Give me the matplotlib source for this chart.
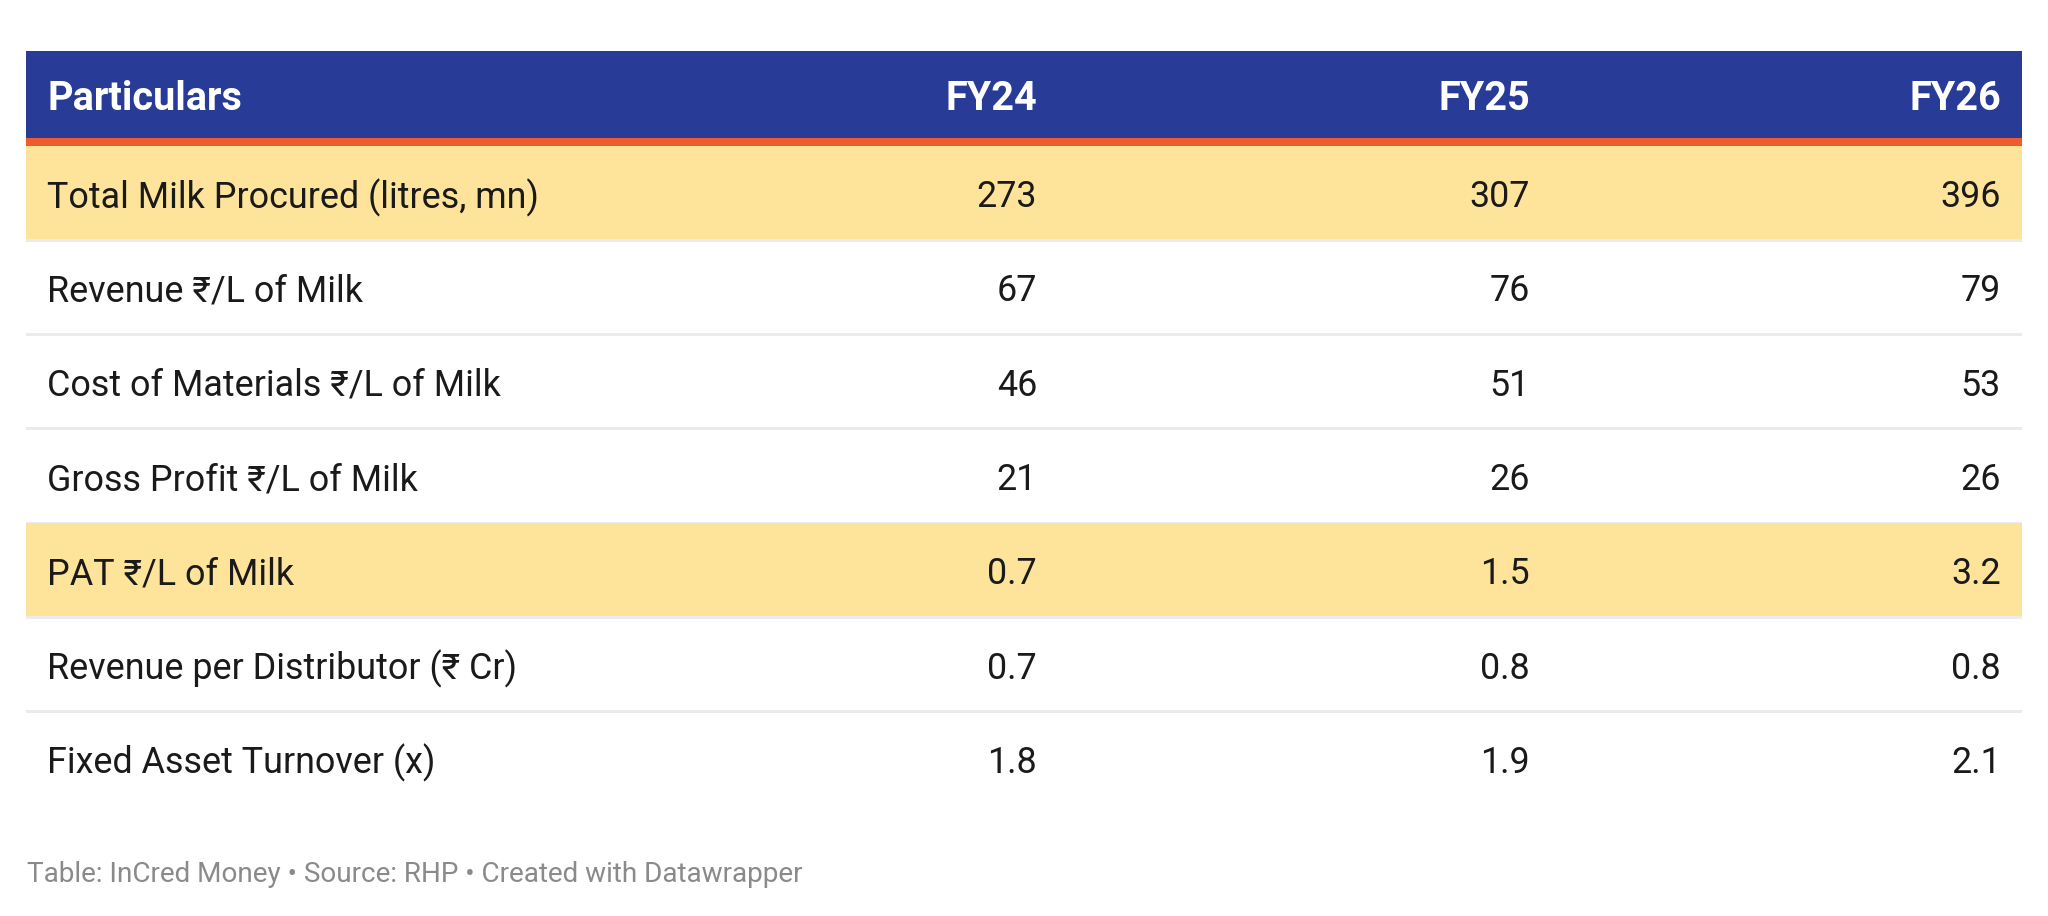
import matplotlib
matplotlib.use("Agg")
import matplotlib.pyplot as plt
from matplotlib.patches import Rectangle

# ---- data ----
columns = ["Particulars", "FY24", "FY25", "FY26"]
row_labels = [
    "Total Milk Procured (litres, mn)",
    "Revenue ₹/L of Milk",
    "Cost of Materials ₹/L of Milk",
    "Gross Profit ₹/L of Milk",
    "PAT ₹/L of Milk",
    "Revenue per Distributor (₹ Cr)",
    "Fixed Asset Turnover (x)",
]
fy24 = ["273", "67", "46", "21", "0.7", "0.7", "1.8"]
fy25 = ["307", "76", "51", "26", "1.5", "0.8", "1.9"]
fy26 = ["396", "79", "53", "26", "3.2", "0.8", "2.1"]
highlighted = [True, False, False, False, True, False, False]
footer = "Table: InCred Money • Source: RHP • Created with Datawrapper"

# ---- style ----
W, H = 2048, 916
DPI = 100
FAM = ["Roboto", "DejaVu Sans"]
BLUE = "#283b97"
ORANGE = "#ef5b2b"
YELLOW = "#fee49a"
LINE = "#ebebeb"
TEXT = "#1a1a1a"
GREY = "#8a8a8a"

left, right = 26, 2022
pad = 21
head_top, head_bot = 51, 138
orange_h = 8
body_top = head_bot + orange_h
row_h = 94.3
col_right = [None, 1037, 1530, 2001]
fs_head = 28.5
fs = 25.8
fs_foot = 20.1

fig = plt.figure(figsize=(W / DPI, H / DPI), dpi=DPI)
ax = fig.add_axes([0, 0, 1, 1])
ax.set_xlim(0, W)
ax.set_ylim(H, 0)
ax.axis("off")

# header
ax.add_patch(Rectangle((left, head_top), right - left, head_bot - head_top, color=BLUE, lw=0))
ax.add_patch(Rectangle((left, head_bot), right - left, orange_h, color=ORANGE, lw=0))
hy = (head_top + head_bot) / 2
for j, c in enumerate(columns):
    if j == 0:
        ax.text(left + pad, hy, c, ha="left", va="center_baseline", fontsize=fs_head,
                fontweight="bold", color="white", family=FAM)
    else:
        ax.text(col_right[j], hy, c, ha="right", va="center_baseline", fontsize=fs_head,
                fontweight="bold", color="white", family=FAM)

# body
values = [fy24, fy25, fy26]
n = len(row_labels)
for i in range(n):
    y0 = body_top + i * row_h
    if highlighted[i]:
        ax.add_patch(Rectangle((left, y0), right - left, row_h, color=YELLOW, lw=0))
    if i < n - 1:
        ax.add_patch(Rectangle((left, y0 + row_h - 1.5), right - left, 3, color=LINE, lw=0))
    yc = y0 + row_h / 2
    ax.text(left + pad, yc, row_labels[i], ha="left", va="center_baseline", fontsize=fs,
            color=TEXT, family=FAM)
    for j, col in enumerate(values, start=1):
        ax.text(col_right[j], yc, col[i], ha="right", va="center_baseline", fontsize=fs,
                color=TEXT, family=FAM)

# footer
ax.text(left + 1, 882, footer, ha="left", va="baseline", fontsize=fs_foot, color=GREY, family=FAM)

fig.savefig("out.png", dpi=DPI, facecolor="white")
